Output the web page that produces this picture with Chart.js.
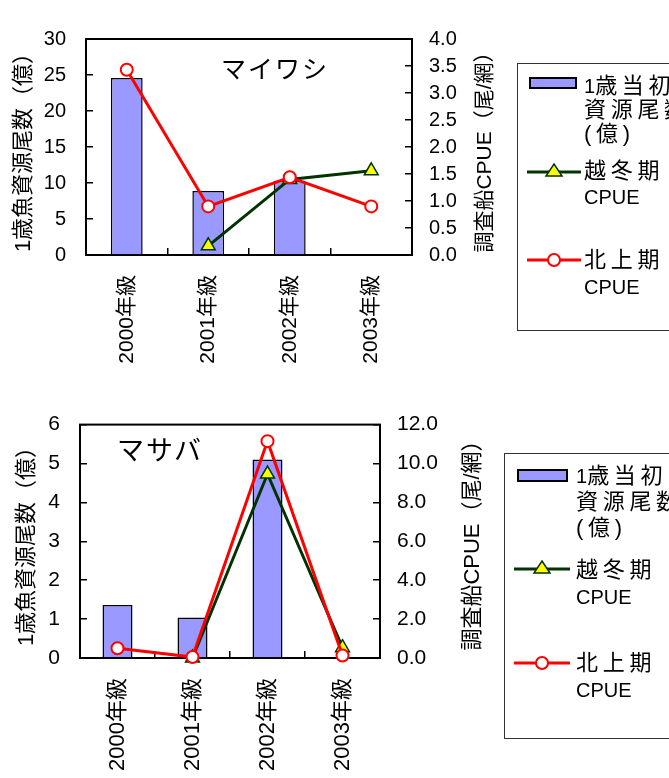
<!DOCTYPE html>
<html>
<head>
<meta charset="utf-8">
<script src="https://cdn.jsdelivr.net/npm/chart.js@4"></script>
<style>
body{margin:0;width:669px;height:778px;overflow:hidden;background:#fff;position:relative;font-family:"Liberation Sans","Noto Sans CJK JP",sans-serif;color:#000;}
canvas{position:absolute;left:0;}
.name{position:absolute;white-space:nowrap;transform:translate(-50%,-50%);}
.box{position:absolute;border:1px solid #333;width:220px;}
.txt{position:absolute;white-space:nowrap;font-size:20px;}
.jp{letter-spacing:4.7px;font-size:22px;}
svg{position:absolute;overflow:visible;}
</style>
</head>
<body>
<canvas id="sardine" width="669" height="385" style="top:0"></canvas>
<canvas id="mackerel" width="669" height="393" style="top:385px"></canvas>

<div class="name" style="left:275px;top:67px;font-size:25px;letter-spacing:2px">マイワシ</div>
<div class="name" style="left:160px;top:448px;font-size:27px;letter-spacing:2px">マサバ</div>

<!-- top legend -->
<div class="box" style="left:517px;top:63px;height:266px"></div>
<svg style="left:529px;top:77px" width="48" height="12"><rect x="1" y="1" width="46" height="10" fill="#9999ff" stroke="#000" stroke-width="2"/></svg>
<div class="txt" style="left:584px;top:74px;line-height:23px">1<span class="jp">歳当初</span><br><span class="jp">資源尾数</span><br><span class="jp">(億)</span></div>
<svg style="left:527px;top:160px" width="54" height="24"><line x1="0" y1="12" x2="54" y2="12" stroke="#003300" stroke-width="3"/><polygon points="27,4 35,16 19,16" fill="#ffff00" stroke="#003300" stroke-width="1.5"/></svg>
<div class="txt" style="left:584px;top:158px;line-height:26px"><span class="jp">越冬期</span><br>CPUE</div>
<svg style="left:527px;top:248px" width="54" height="24"><line x1="0" y1="12" x2="54" y2="12" stroke="#ff0000" stroke-width="3"/><circle cx="27" cy="12" r="6" fill="#fff" stroke="#ff0000" stroke-width="2"/></svg>
<div class="txt" style="left:584px;top:246px;line-height:27px"><span class="jp">北上期</span><br>CPUE</div>

<!-- bottom legend -->
<div class="box" style="left:504px;top:453px;height:284px"></div>
<svg style="left:517px;top:469px" width="51" height="13"><rect x="1" y="1" width="49" height="11" fill="#9999ff" stroke="#000" stroke-width="2"/></svg>
<div class="txt" style="left:576px;top:463px;line-height:25px">1<span class="jp">歳当初</span><br><span class="jp">資源尾数</span><br><span class="jp">(億)</span></div>
<svg style="left:514px;top:557px" width="56" height="24"><line x1="0" y1="12" x2="56" y2="12" stroke="#003300" stroke-width="3"/><polygon points="28,4 36,16 20,16" fill="#ffff00" stroke="#003300" stroke-width="1.5"/></svg>
<div class="txt" style="left:576px;top:556px;line-height:27px"><span class="jp">越冬期</span><br>CPUE</div>
<svg style="left:514px;top:651px" width="56" height="24"><line x1="0" y1="12" x2="56" y2="12" stroke="#ff0000" stroke-width="3"/><circle cx="28" cy="12" r="6" fill="#fff" stroke="#ff0000" stroke-width="2"/></svg>
<div class="txt" style="left:576px;top:649px;line-height:27px"><span class="jp">北上期</span><br>CPUE</div>

<script>
// year classes
const categories = ['2000年級', '2001年級', '2002年級', '2003年級'];

// マイワシ
const sardineStock = [24.6, 8.9, 10.3, null];          // 1歳当初資源尾数(億)
const sardineWinterCpue = [null, 0.17, 1.4, 1.56];     // 越冬期CPUE
const sardineNorthCpue = [3.43, 0.9, 1.44, 0.9];       // 北上期CPUE

// マサバ
const mackerelStock = [1.36, 1.04, 5.1, null];
const mackerelWinterCpue = [null, 0.0, 9.46, 0.53];
const mackerelNorthCpue = [0.5, 0.05, 11.15, 0.13];

const leftTitle = '1歳魚資源尾数（億）';
const rightTitle = '調査船CPUE（尾/網）';

const fam = '"Liberation Sans", "Noto Sans CJK JP", sans-serif';

// box around the plot + rotated axis titles
const framePlugin = {
  id: 'frame',
  beforeDatasetsDraw(chart, args, opts) {
    const a = chart.chartArea;
    const ctx = chart.ctx;
    ctx.save();
    ctx.strokeStyle = '#000';
    ctx.lineWidth = 2;
    ctx.strokeRect(a.left, a.top, a.right - a.left, a.bottom - a.top);
    ctx.restore();
  },
  afterDraw(chart, args, opts) {
    const ctx = chart.ctx;
    [[opts.leftX, opts.leftY, leftTitle, opts.leftSize], [opts.rightX, opts.rightY, rightTitle, opts.rightSize]].forEach(t => {
      ctx.save();
      ctx.fillStyle = '#000';
      ctx.font = t[3] + 'px ' + fam;
      ctx.textAlign = 'center';
      ctx.textBaseline = 'middle';
      ctx.translate(t[0], t[1]);
      ctx.rotate(-Math.PI / 2);
      ctx.fillText(t[2], 0, 0);
      ctx.restore();
    });
  }
};

function makeChart(id, stock, winter, north, c) {
  const font = {family: fam, size: c.fontSize};
  const tickGrid = {drawOnChartArea: false, tickLength: -7, color: '#000', lineWidth: 1.5};
  new Chart(document.getElementById(id), {
    type: 'bar',
    data: {
      labels: categories,
      datasets: [
        {
          type: 'bar', data: stock, yAxisID: 'y',
          backgroundColor: '#9999ff', borderColor: '#000', borderWidth: 1.5,
          barPercentage: c.barPct, categoryPercentage: 1, order: 3
        },
        {
          type: 'line', data: winter, yAxisID: 'y1',
          borderColor: '#003300', borderWidth: 3,
          pointStyle: 'triangle', pointRadius: 8,
          pointBackgroundColor: '#ffff00', pointBorderColor: '#003300', pointBorderWidth: 1.5,
          order: 2, clip: false
        },
        {
          type: 'line', data: north, yAxisID: 'y1',
          borderColor: '#ff0000', borderWidth: 3,
          pointStyle: 'circle', pointRadius: 6,
          pointBackgroundColor: '#fff', pointBorderColor: '#ff0000', pointBorderWidth: 2,
          order: 1, clip: false
        }
      ]
    },
    options: {
      responsive: false,
      animation: false,
      events: [],
      layout: {padding: {left: c.padL, right: c.padR, top: c.padT, bottom: 0}},
      plugins: {
        legend: {display: false},
        tooltip: {enabled: false},
        frame: c.titles
      },
      scales: {
        x: {
          grid: tickGrid,
          border: {color: '#000', width: 2},
          ticks: {maxRotation: 90, minRotation: 90, padding: 27, color: '#000', font: {family: fam, size: c.xFontSize}},
          afterFit(s) { s.height = c.xH; }
        },
        y: {
          position: 'left', min: 0, max: c.yMax,
          grid: tickGrid,
          border: {color: '#000', width: 2},
          ticks: {stepSize: c.yStep, padding: 27, color: '#000', font: font},
          afterFit(s) { s.width = c.yW; }
        },
        y1: {
          position: 'right', min: 0, max: c.y1Max,
          grid: tickGrid,
          border: {color: '#000', width: 2},
          ticks: {stepSize: c.y1Step, padding: 24, color: '#000', font: font,
            callback: v => v.toFixed(1)},
          afterFit(s) { s.width = c.y1W; }
        }
      }
    },
    plugins: [framePlugin]
  });
}

makeChart('sardine', sardineStock, sardineWinterCpue, sardineNorthCpue, {
  fontSize: 20, xFontSize: 21, barPct: 0.39,
  padL: 8, yW: 78, padR: 168, y1W: 89, padT: 22, xH: 130,
  yMax: 30, yStep: 5, y1Max: 4, y1Step: 0.5,
  titles: {leftSize: 22, rightSize: 21, leftX: 24, leftY: 147, rightX: 485, rightY: 147}
});

makeChart('mackerel', mackerelStock, mackerelWinterCpue, mackerelNorthCpue, {
  fontSize: 21, xFontSize: 22, barPct: 0.40,
  padL: 10, yW: 70, padR: 179, y1W: 110, padT: 23, xH: 120,
  yMax: 6, yStep: 1, y1Max: 12, y1Step: 2,
  titles: {leftSize: 22, rightSize: 22, leftX: 27, leftY: 156, rightX: 473, rightY: 155}
});
</script>
</body>
</html>
